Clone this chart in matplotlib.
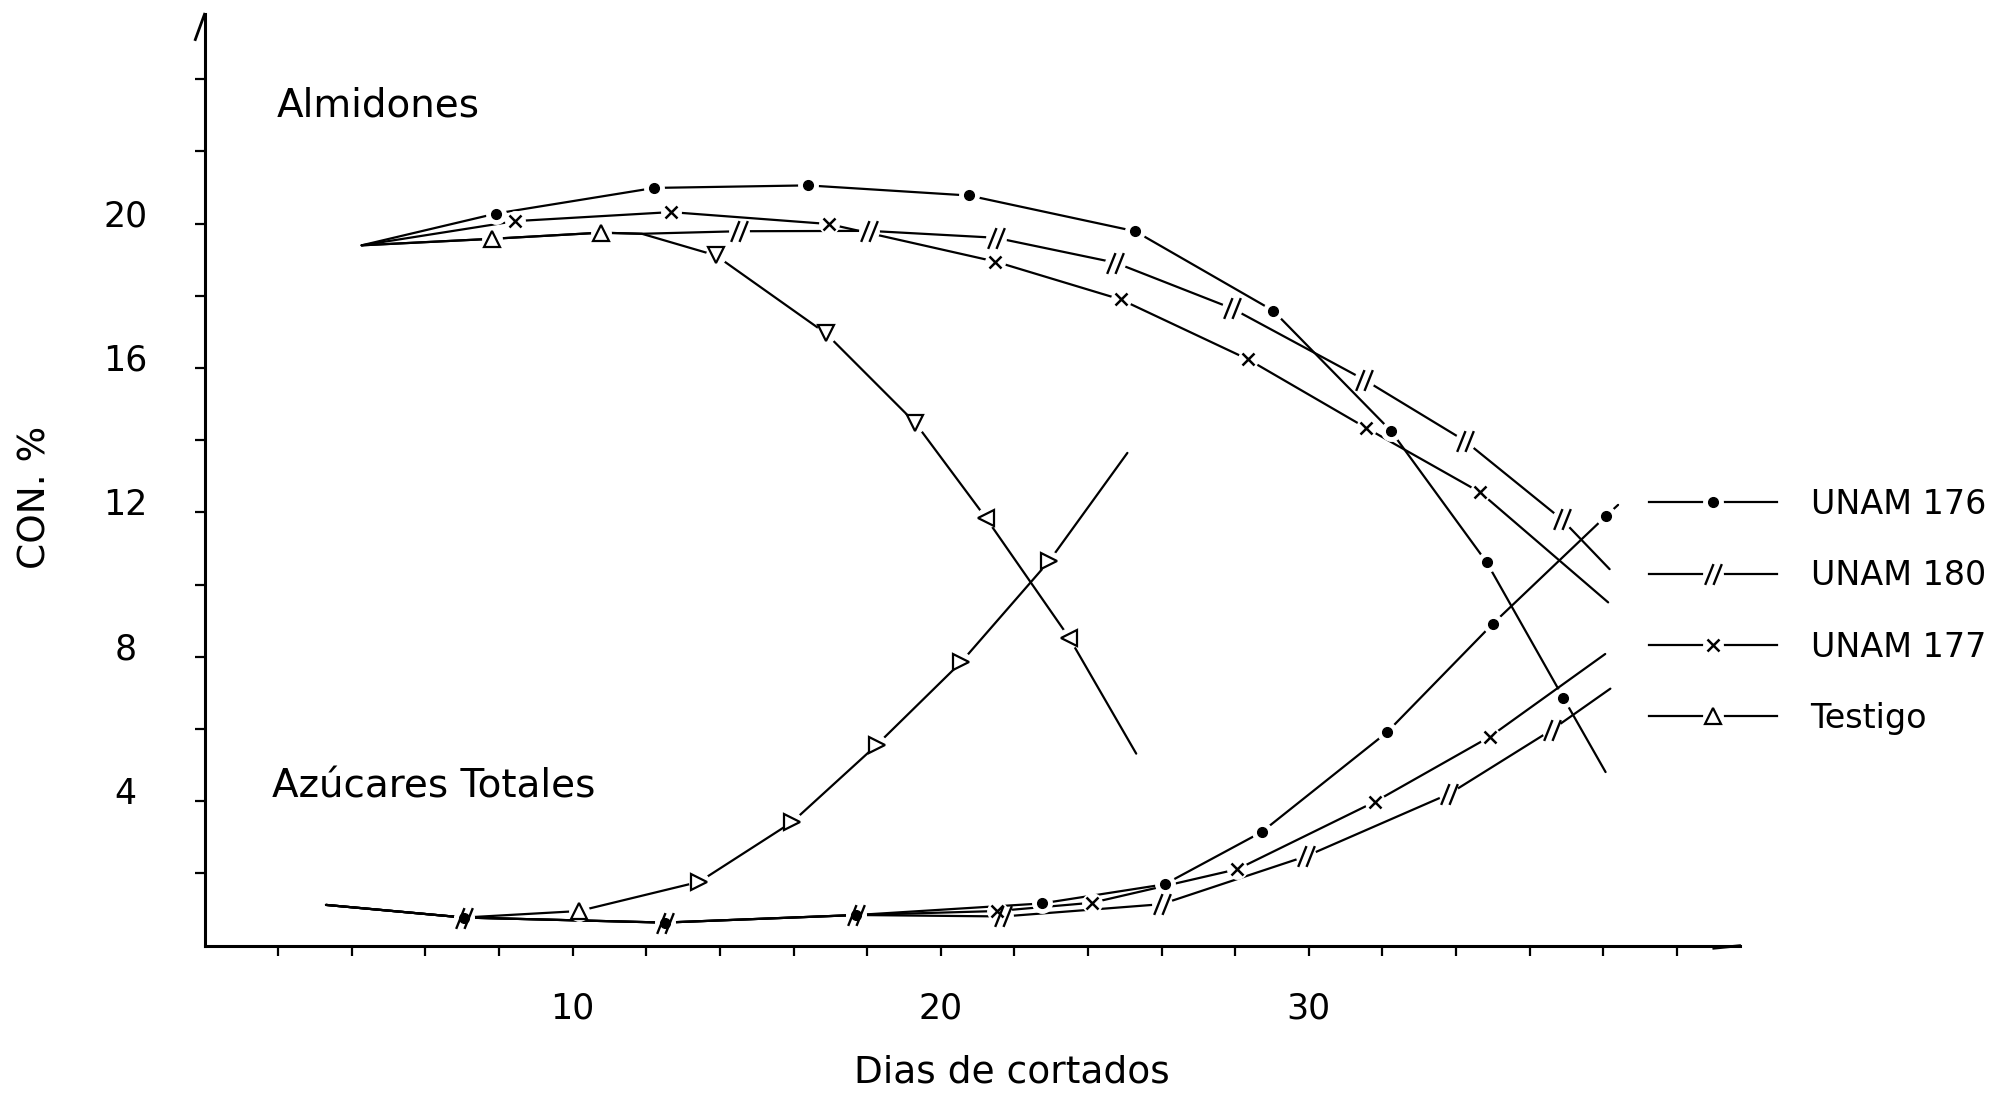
import matplotlib
matplotlib.use("Agg")
import matplotlib.pyplot as plt
from matplotlib.path import Path
from matplotlib.lines import Line2D
from matplotlib.transforms import ScaledTranslation

plt.rcParams['font.family'] = ['DejaVu Sans']

# ---- Almidones (starch content, %) vs days after cutting ----
alm_176_x = [4.27, 7.92, 12.22, 16.39, 20.76, 25.28, 29.03, 32.22, 34.83, 36.91, 38.06]
alm_176_y = [19.40, 20.28, 20.99, 21.06, 20.78, 19.79, 17.59, 14.27, 10.62, 6.87, 4.81]
alm_176_m = [0, 1, 1, 1, 1, 1, 1, 1, 1, 1, 0]

alm_180_x = [4.27, 7.81, 10.76, 11.88, 14.51, 18.06, 21.49, 24.74, 27.92, 31.50, 34.23, 36.87, 38.17]
alm_180_y = [19.40, 19.58, 19.75, 19.72, 19.79, 19.80, 19.61, 18.92, 17.65, 15.68, 13.99, 11.81, 10.43]
alm_180_m = [0, 0, 0, 0, 1, 1, 1, 1, 1, 1, 1, 1, 0]

alm_177_x = [4.27, 8.44, 12.67, 16.96, 21.48, 24.89, 28.35, 31.56, 34.65, 38.13]
alm_177_y = [19.40, 20.07, 20.32, 19.99, 18.95, 17.90, 16.24, 14.34, 12.56, 9.51]
alm_177_m = [0, 1, 1, 1, 1, 1, 1, 1, 1, 0]

alm_tes_x = [4.27, 7.81, 10.76, 11.88, 13.89, 16.88, 19.31, 21.22, 23.49, 25.31]
alm_tes_y = [19.40, 19.58, 19.75, 19.72, 19.12, 16.96, 14.48, 11.86, 8.53, 5.32]
alm_tes_m = [0, 1, 1, 0, 1, 1, 1, 1, 1, 0]

# ---- Azucares totales (total sugars, %) vs days after cutting ----
az_176_x = [3.30, 7.05, 12.50, 17.71, 22.74, 26.08, 28.72, 32.12, 35.00, 38.06, 38.40]
az_176_y = [1.13, 0.78, 0.64, 0.85, 1.17, 1.70, 3.15, 5.91, 8.92, 11.89, 12.21]
az_176_m = [0, 1, 1, 1, 1, 1, 1, 1, 1, 1, 0]

az_180_x = [3.30, 7.05, 12.50, 17.71, 21.70, 26.00, 29.93, 33.82, 36.60, 38.19]
az_180_y = [1.13, 0.78, 0.64, 0.85, 0.81, 1.15, 2.48, 4.21, 5.98, 7.12]
az_180_m = [0, 1, 1, 1, 1, 1, 1, 1, 1, 0]

az_177_x = [3.30, 7.05, 12.50, 17.71, 21.53, 24.11, 28.06, 31.80, 34.92, 38.05]
az_177_y = [1.13, 0.78, 0.64, 0.85, 0.96, 1.19, 2.12, 3.99, 5.79, 8.08]
az_177_m = [0, 0, 0, 0, 1, 1, 1, 1, 1, 0]

az_tes_x = [3.30, 7.05, 10.17, 13.44, 15.97, 18.26, 20.56, 22.95, 25.07]
az_tes_y = [1.13, 0.78, 0.96, 1.77, 3.43, 5.56, 7.86, 10.66, 13.65]
az_tes_m = [0, 0, 1, 1, 1, 1, 1, 1, 0]

varieties = ['UNAM 176', 'UNAM 180', 'UNAM 177', 'Testigo']
x_ticks = list(range(2, 41, 2))
x_labeled = [10, 20, 30]
y_ticks = list(range(2, 25, 2))
y_labeled = [4, 8, 12, 16, 20]

# ---- marker styles ----
slash_path = Path([(-0.40, -0.5), (0.00, 0.5), (0.00, -0.5), (0.40, 0.5)],
                  [Path.MOVETO, Path.LINETO, Path.MOVETO, Path.LINETO])
styles = {
    'UNAM 176': dict(marker='o', ms=7, mfc='black', mec='black', mew=1.0),
    'UNAM 180': dict(marker=slash_path, ms=15, mfc='none', mec='black', mew=1.7),
    'UNAM 177': dict(marker='x', ms=9, mfc='none', mec='black', mew=1.8),
    'Testigo': dict(marker='^', ms=11, mfc='white', mec='black', mew=1.6),
}
LW = 1.6
Z_LINE, Z_GAP, Z_MARK = 2, 3, 4

fig = plt.figure(figsize=(20.04, 10.94), dpi=100)
ax = fig.add_axes([0.10205, 0.13556, 0.766, 0.8514])
ax.set_xlim(0, 41.7)
ax.set_ylim(0, 25.8)

for side in ('top', 'right'):
    ax.spines[side].set_visible(False)
for side in ('left', 'bottom'):
    ax.spines[side].set_linewidth(2.2)


def draw_series(xs, ys, mask, name, tri_markers=None):
    ax.plot(xs, ys, color='black', lw=LW, zorder=Z_LINE, solid_capstyle='round')
    mx = [x for x, m in zip(xs, mask) if m]
    my = [y for y, m in zip(ys, mask) if m]
    # small breaks in the stroke around each measured point
    ax.plot(mx, my, ls='none', marker='o', ms=14, mfc='white', mec='white', zorder=Z_GAP)
    st = dict(styles[name])
    if tri_markers is None:
        ax.plot(mx, my, ls='none', color='black', zorder=Z_MARK, **st)
    else:
        st.pop('marker')
        for x, y, mk in zip(mx, my, tri_markers):
            ax.plot([x], [y], ls='none', marker=mk, color='black', zorder=Z_MARK, **st)


draw_series(alm_176_x, alm_176_y, alm_176_m, 'UNAM 176')
draw_series(alm_180_x, alm_180_y, alm_180_m, 'UNAM 180')
draw_series(alm_177_x, alm_177_y, alm_177_m, 'UNAM 177')
draw_series(alm_tes_x, alm_tes_y, alm_tes_m, 'Testigo',
            tri_markers=['^', '^', 'v', 'v', 'v', '<', '<'])

draw_series(az_176_x, az_176_y, az_176_m, 'UNAM 176')
draw_series(az_180_x, az_180_y, az_180_m, 'UNAM 180')
draw_series(az_177_x, az_177_y, az_177_m, 'UNAM 177')
draw_series(az_tes_x, az_tes_y, az_tes_m, 'Testigo',
            tri_markers=['^', '>', '>', '>', '>', '>'])

# ---- axes, ticks, labels ----
ax.set_xticks(x_ticks, labels=[str(v) if v in x_labeled else '' for v in x_ticks])
ax.set_yticks(y_ticks, labels=[str(v) if v in y_labeled else '' for v in y_ticks])
ax.tick_params(axis='x', direction='out', length=7, width=1.6, pad=26, labelsize=25)
ax.tick_params(axis='y', direction='out', length=7, width=1.6, pad=50, labelsize=25)
shift = ScaledTranslation(0, 0.11, fig.dpi_scale_trans)
for lab in ax.get_yticklabels():
    lab.set_horizontalalignment('center')
    lab.set_transform(lab.get_transform() + shift)

ax.set_xlabel('Dias de cortados', fontsize=27, va='top')
ax.xaxis.set_label_coords(0.526, -0.117)
ax.set_ylabel('CON. %', fontsize=27, va='center')
ax.yaxis.set_label_coords(-0.110, 0.481)

ax.text(1.97, 23.26, 'Almidones', fontsize=28, ha='left', va='center')
ax.text(1.83, 4.40, 'Azúcares Totales', fontsize=28, ha='left', va='center')

# little hook at the top of the vertical axis and barb at the end of the horizontal axis
ax.plot([0, -0.25], [25.8, 25.1], color='black', lw=2.0, clip_on=False, zorder=5)
ax.plot([41.7, 41.0], [0, -0.07], color='black', lw=2.0, clip_on=False, zorder=5)

# ---- legend ----
handles = []
for name in varieties:
    gap = Line2D([], [], color='black', lw=LW, marker='o', ms=14, mfc='white', mec='white')
    mk = Line2D([], [], ls='none', color='black', **styles[name])
    handles.append((gap, mk))
fig.legend(handles, varieties, loc='center left', bbox_to_anchor=(0.8228, 0.441),
           bbox_transform=fig.transFigure, frameon=False, fontsize=24,
           handlelength=3.85, handletextpad=1.0, labelspacing=1.15, borderpad=0,
           borderaxespad=0, numpoints=1)

fig.savefig('out.png', dpi=100)
